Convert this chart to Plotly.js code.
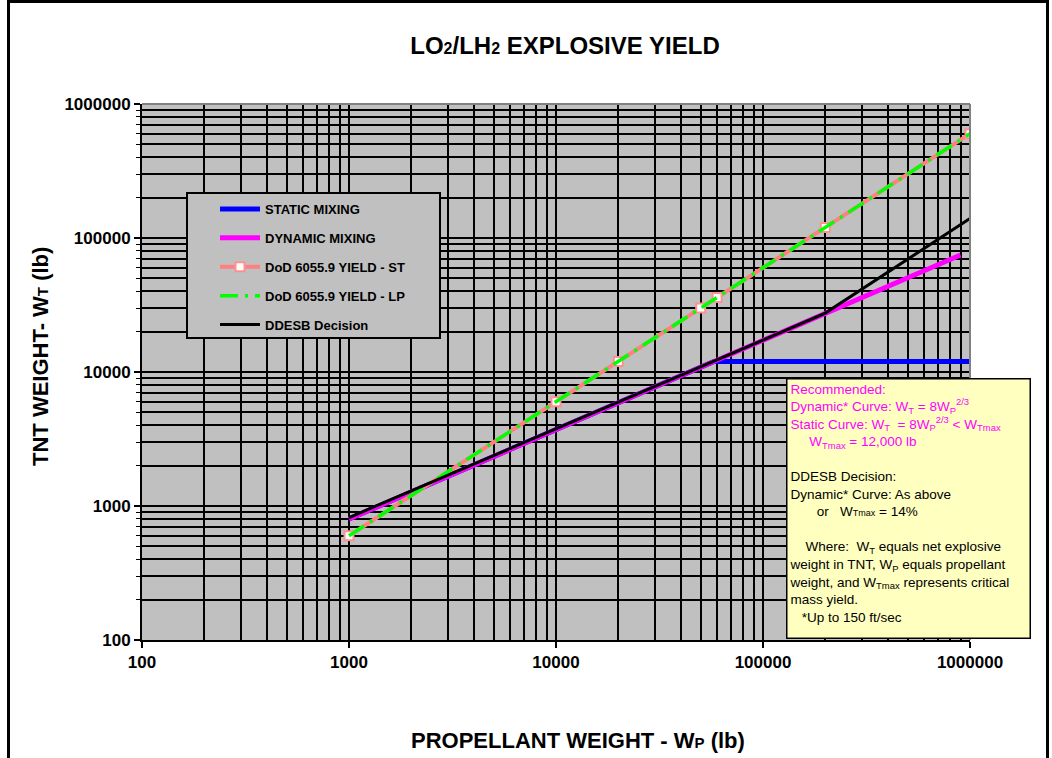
<!DOCTYPE html>
<html>
<head>
<meta charset="utf-8">
<script src="https://cdn.plot.ly/plotly-3.0.1.min.js"></script>
<style>
  html, body { margin: 0; padding: 0; background: #fff; }
  #wrap { position: relative; width: 1052px; height: 758px; overflow: hidden; }
  #chart { position: absolute; left: 0; top: 0; width: 1052px; height: 758px; }
  #frame { position: absolute; left: 7px; top: 0px; width: 1036px; height: 800px;
           border: 3px solid #000; pointer-events: none; }
</style>
</head>
<body>
<div id="wrap">
  <div id="chart"></div>
  <div id="frame"></div>
</div>
<script>
// ---- data ----
var staticX  = [1000, 10000, 58000, 1000000];
var staticY  = [800, 3700, 12000, 12000];

var dynamicX = [1000, 10000, 100000, 200000, 900000];
var dynamicY = [800, 3700, 17200, 27400, 74600];

var dodStX   = [1000, 10000, 20000, 50000, 60000, 200000, 1000000];
var dodStY   = [600, 6000, 12000, 30000, 36000, 120000, 600000];

var dodLpX   = [1000, 1000000];
var dodLpY   = [600, 600000];

var ddesbX   = [1000, 10000, 100000, 200000, 1000000];
var ddesbY   = [820, 3750, 17300, 27500, 140000];

var seriesNames = ['STATIC MIXING', 'DYNAMIC MIXING', 'DoD 6055.9 YIELD - ST',
                   'DoD 6055.9 YIELD - LP', 'DDESB Decision'];
var xTickVals = [100, 1000, 10000, 100000, 1000000];
var xTickText = ['100', '1000', '10000', '100000', '1000000'];
var yTickVals = [100, 1000, 10000, 100000, 1000000];
var yTickText = ['100', '1000', '10000', '100000', '1000000'];

var FONT = '"Liberation Sans", Arial, sans-serif';

var traces = [
  { x: staticX, y: staticY, name: seriesNames[0], mode: 'lines', legendrank: 1, legendgroup: 'a',
    line: { color: '#0000FF', width: 5 } },
  { x: dynamicX, y: dynamicY, name: seriesNames[1], mode: 'lines', legendrank: 2, legendgroup: 'b',
    line: { color: '#FF00FF', width: 5 } },
  { x: dodStX, y: dodStY, name: seriesNames[2], mode: 'lines+markers', legendrank: 3, legendgroup: 'c',
    line: { color: '#FF8080', width: 4 },
    marker: { symbol: 'square', size: 9, color: '#FFFFFF', line: { color: '#FF9090', width: 2 } } },
  { x: dodLpX, y: dodLpY, name: seriesNames[3], mode: 'lines', legendrank: 4, legendgroup: 'd',
    line: { color: '#00FF00', width: 3.5, dash: '18px,7px,3px,7px' } },
  { x: ddesbX, y: ddesbY, name: seriesNames[4], mode: 'lines', legendrank: 5, legendgroup: 'e',
    line: { color: '#000000', width: 3 } }
];

var annText =
  '<span style="color:#FF00FF">Recommended:<br>' +
  'Dynamic* Curve: W<sub>T</sub> = 8W<sub>P</sub><sup>2/3</sup><br>' +
  'Static Curve: W<sub>T</sub> \u00A0= 8W<sub>P</sub><sup>2/3</sup> &lt; W<sub>Tmax</sub><br>' +
  '\u00A0\u00A0\u00A0\u00A0\u00A0W<sub>Tmax</sub> = 12,000 lb</span><br>' +
  '\u00A0<br>' +
  'DDESB Decision:<br>' +
  'Dynamic* Curve: As above<br>' +
  '\u00A0\u00A0\u00A0\u00A0\u00A0\u00A0\u00A0or \u00A0\u00A0W<span style="font-size:9px">Tmax</span> = 14%<br>' +
  '\u00A0<br>' +
  '\u00A0\u00A0\u00A0\u00A0Where: \u00A0W<sub>T</sub> equals net explosive<br>' +
  'weight in TNT, W<sub>P</sub> equals propellant<br>' +
  'weight, and W<sub>Tmax</sub> represents critical<br>' +
  'mass yield.<br>' +
  '\u00A0\u00A0\u00A0*Up to 150 ft/sec';

var L = 142, R = 970, T = 104, B = 640;
var PW = R - L, PH = B - T;
function px(x) { return (x - L) / PW; }
function py(y) { return (B - y) / PH; }

var layout = {
  width: 1052, height: 758,
  margin: { l: L, r: 1052 - R, t: T, b: 758 - B, pad: 0 },
  paper_bgcolor: '#FFFFFF',
  plot_bgcolor: '#C0C0C0',
  font: { family: FONT, color: '#000' },
  title: {
    text: '<b>LO<span style="font-size:16px">2</span>/LH<span style="font-size:16px">2</span> EXPLOSIVE YIELD</b>',
    font: { size: 24, family: FONT, color: '#000' },
    x: 565 / 1052, xref: 'container', xanchor: 'center',
    y: 1 - 46 / 758, yref: 'container', yanchor: 'middle'
  },
  xaxis: {
    type: 'log', range: [2, 6],
    tickvals: xTickVals, ticktext: xTickText,
    tickfont: { size: 17, family: FONT, weight: 'bold' },
    ticks: 'outside', ticklen: 6, tickwidth: 2, tickcolor: '#000',
    showline: true, linecolor: '#000', linewidth: 2,
    showgrid: true, gridcolor: '#000', gridwidth: 2,
    minor: { dtick: 'D1', showgrid: true, gridcolor: '#000', gridwidth: 2, ticks: '' },
    zeroline: false,
    title: { text: '' }
  },
  yaxis: {
    type: 'log', range: [2, 6],
    tickvals: yTickVals, ticktext: yTickText,
    tickfont: { size: 17, family: FONT, weight: 'bold' },
    ticks: 'outside', ticklen: 6, tickwidth: 2, tickcolor: '#000',
    showline: true, linecolor: '#000', linewidth: 2,
    showgrid: true, gridcolor: '#000', gridwidth: 2,
    minor: { dtick: 'D1', showgrid: true, gridcolor: '#000', gridwidth: 2,
             ticks: 'outside', ticklen: 4, tickcolor: '#000', tickwidth: 1 },
    zeroline: false,
    title: { text: '' }
  },
  showlegend: true,
  legend: {
    x: px(215), y: py(194), xanchor: 'left', yanchor: 'top',
    bgcolor: 'rgba(0,0,0,0)', borderwidth: 0,
    font: { size: 13, family: FONT, weight: 'bold', color: '#000' },
    traceorder: 'grouped', tracegroupgap: 9,
    itemwidth: 40
  },
  shapes: [
    { type: 'rect', xref: 'paper', yref: 'paper', layer: 'above',
      x0: px(187), x1: px(440), y0: py(338), y1: py(193),
      fillcolor: '#C0C0C0', line: { color: '#000', width: 2 } },
    { type: 'line', xref: 'paper', yref: 'paper', layer: 'above',
      x0: 0, x1: 1, y0: 1, y1: 1, line: { color: '#808080', width: 2 } },
    { type: 'line', xref: 'paper', yref: 'paper', layer: 'above',
      x0: 1, x1: 1, y0: 0, y1: 1, line: { color: '#808080', width: 2 } }
  ],
  annotations: [
    { xref: 'paper', yref: 'paper', x: px(786), y: py(378), xanchor: 'left', yanchor: 'top',
      text: annText, showarrow: false, align: 'left', valign: 'top',
      width: 238, height: 254,
      bgcolor: '#FFFFC0', bordercolor: '#000', borderwidth: 1.5, borderpad: 2,
      font: { size: 13.5, family: FONT, color: '#000' } },
    { xref: 'paper', yref: 'paper', x: px(578), y: py(740), xanchor: 'center', yanchor: 'middle',
      text: '<b>PROPELLANT WEIGHT - W<span style="font-size:15px">P</span> (lb)</b>',
      showarrow: false, font: { size: 22, family: FONT, color: '#000' } },
    { xref: 'paper', yref: 'paper', x: px(40), y: py(357), xanchor: 'center', yanchor: 'middle',
      textangle: -90,
      text: '<b>TNT WEIGHT- W<span style="font-size:15px">T</span> (lb)</b>',
      showarrow: false, font: { size: 22, family: FONT, color: '#000' } }
  ]
};

Plotly.newPlot('chart', traces, layout, { displayModeBar: false, staticPlot: true });
</script>
</body>
</html>
